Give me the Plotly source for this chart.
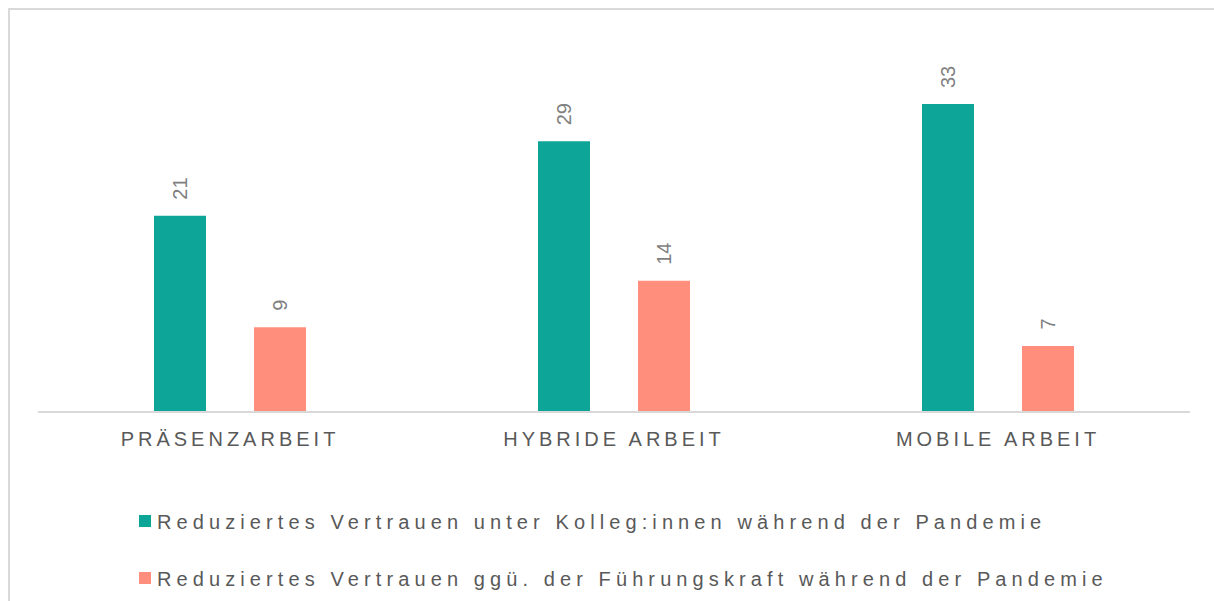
import plotly.graph_objects as go

# ─── Data ─────────────────────────────────────────────────────────────────────

categories = ['PRÄSENZARBEIT', 'HYBRIDE ARBEIT', 'MOBILE ARBEIT']
kollegen = [21, 29, 33]
fuehrung = [9, 14, 7]
series_names = [
    'Reduziertes Vertrauen unter Kolleg:innen während der Pandemie',
    'Reduziertes Vertrauen ggü. der Führungskraft während der Pandemie',
]

TEAL = '#0CA597'
SALMON = '#FF8E7C'
FONT = 'Liberation Sans, Arial, sans-serif'

W, H = 1214, 601
M = dict(l=38, r=24, t=20, b=190)
plot_w = W - M['l'] - M['r']
plot_h = H - M['t'] - M['b']

px_x = lambda p: (p - M['l']) / plot_w
px_y = lambda p: (H - M['b'] - p) / plot_h

fig = go.Figure()
for i, (vals, col) in enumerate([(kollegen, TEAL), (fuehrung, SALMON)]):
    fig.add_trace(go.Bar(
        x=categories, y=vals, name=series_names[i],
        marker=dict(color=col, line=dict(width=0)),
        legend='legend' if i == 0 else 'legend2',
        hoverinfo='skip',
    ))

# value labels, rotated, above each bar
for vals, shift in [(kollegen, -50), (fuehrung, 50)]:
    for c, v in zip(categories, vals):
        fig.add_annotation(
            x=c, y=v, text=str(v), showarrow=False,
            xshift=shift, yshift=14, yanchor='bottom', textangle=-90,
            font=dict(family=FONT, size=20, color='#7F7F7F'),
        )

# outer chart border
fig.add_shape(type='rect', xref='paper', yref='paper',
              x0=px_x(9), x1=px_x(1225), y0=px_y(615), y1=px_y(9),
              line=dict(color='#D9D9D9', width=2), fillcolor='rgba(0,0,0,0)')

legend_style = dict(xanchor='left', yanchor='middle',
                    font=dict(size=20, color='#595959'),
                    bgcolor='rgba(0,0,0,0)')

fig.update_layout(
    width=W, height=H, margin=dict(**M, autoexpand=False),
    paper_bgcolor='white', plot_bgcolor='white',
    barmode='group', bargap=0.479, bargroupgap=0.48,
    font=dict(family=FONT, color='#595959'),
    xaxis=dict(showline=True, linecolor='#D9D9D9', linewidth=2,
               tickfont=dict(size=20, color='#595959'), showgrid=False,
               ticks='', ticklabelstandoff=9),
    yaxis=dict(range=[0, plot_h / 9.3], visible=False, showgrid=False),
    legend=dict(x=px_x(125), y=px_y(521), **legend_style),
    legend2=dict(x=px_x(125), y=px_y(578), **legend_style),
    showlegend=True,
)

# Plotly has no letter-spacing option, so add it with a small stylesheet
post = """
document.body.style.margin = '0';
document.head.insertAdjacentHTML('beforeend',
  '<style>.xtick text{letter-spacing:4px}' +
  'g[class^="legend"] text{letter-spacing:5.1px !important;transform:translateX(-8px)}' +
  'g[class^="legend"] .scrollbox{clip-path:none !important}</style>');
"""

fig.write_html("out.html", post_script=post, config={'displayModeBar': False})
